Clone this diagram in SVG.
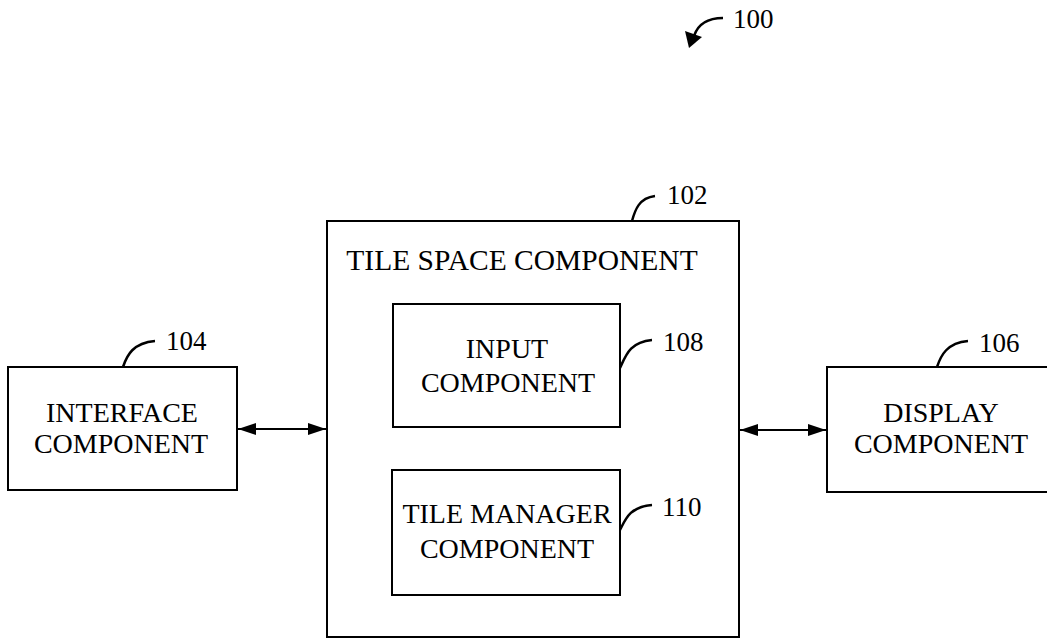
<svg xmlns="http://www.w3.org/2000/svg" width="1047" height="639" viewBox="0 0 1047 639">
<style>
.box{fill:none;stroke:#000;stroke-width:2}
.t{font-family:"Liberation Serif","Times New Roman",serif;font-size:28px;fill:#000;text-anchor:middle}
.lbl{font-family:"Liberation Serif","Times New Roman",serif;font-size:27px;fill:#000}
.lead{fill:none;stroke:#000;stroke-width:2.5}
.conn{stroke:#000;stroke-width:2.2;fill:none}
</style>
<defs>
<marker id="ah" viewBox="0 0 18 12" refX="18" refY="6" markerWidth="18" markerHeight="12" markerUnits="userSpaceOnUse" orient="auto-start-reverse">
<path d="M0,0 L18,6 L0,12 Z" fill="#000"/>
</marker>
</defs>
<rect width="1047" height="639" fill="#fff"/>
<g id="ref100">
<path class="lead" d="M723,18 C708,18 698,24 694,36" />
<path d="M685,31 L689,48 L702,37 Z" fill="#000"/>
<text class="lbl" x="733" y="28">100</text>
</g>
<g id="node102">
<rect class="box" x="327" y="221" width="412" height="416"/>
<text class="t" x="522" y="270" style="font-size:29.5px">TILE SPACE COMPONENT</text>
<path class="lead" d="M632,221 C635,210 639,198 655,196"/>
<text class="lbl" x="667" y="204">102</text>
</g>
<g id="node104">
<rect class="box" x="8" y="367" width="229" height="123"/>
<text class="t" x="122" y="422">INTERFACE</text>
<text class="t" x="121" y="453">COMPONENT</text>
<path class="lead" d="M123,367 C127,355 133,343 155,341"/>
<text class="lbl" x="166" y="350">104</text>
</g>
<g id="node106">
<rect class="box" x="827" y="367" width="240" height="125"/>
<text class="t" x="941" y="422">DISPLAY</text>
<text class="t" x="941" y="453">COMPONENT</text>
<path class="lead" d="M937,367 C941,355 947,343 968,341"/>
<text class="lbl" x="979" y="352">106</text>
</g>
<g id="node108">
<rect class="box" x="393" y="304" width="227" height="123"/>
<text class="t" x="507" y="358">INPUT</text>
<text class="t" x="508" y="392">COMPONENT</text>
<path class="lead" d="M620,368 C626,355 630,342 652,340"/>
<text class="lbl" x="663" y="351">108</text>
</g>
<g id="node110">
<rect class="box" x="392" y="470" width="228" height="125"/>
<text class="t" x="507" y="523">TILE MANAGER</text>
<text class="t" x="507" y="558">COMPONENT</text>
<path class="lead" d="M620,530 C626,518 630,507 652,505"/>
<text class="lbl" x="662" y="516">110</text>
</g>
<g id="connectors">
<line class="conn" x1="238" y1="429" x2="326" y2="429" marker-start="url(#ah)" marker-end="url(#ah)"/>
<line class="conn" x1="740" y1="430" x2="826" y2="430" marker-start="url(#ah)" marker-end="url(#ah)"/>
</g>
</svg>
